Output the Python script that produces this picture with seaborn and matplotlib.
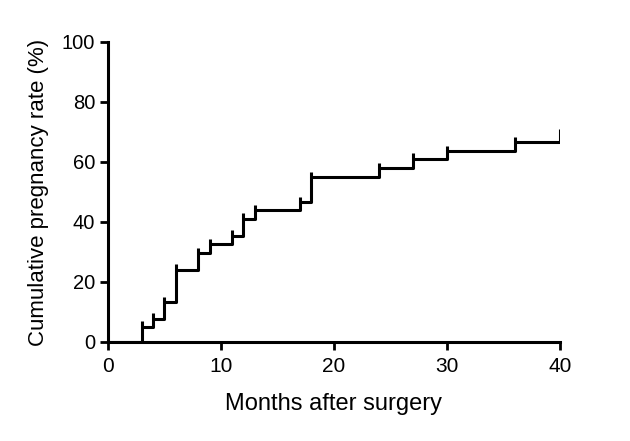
import numpy as np
import pandas as pd
import matplotlib
matplotlib.use("Agg")
import matplotlib.pyplot as plt
import seaborn as sns

# Kaplan-Meier style cumulative pregnancy curve
months = [0, 3, 4, 5, 6, 8, 9, 11, 12, 13, 17, 18, 24, 27, 30, 36, 40]
rate = [0, 5.1, 7.6, 13.2, 24.1, 29.6, 32.7, 35.4, 41.1, 44.0, 46.6, 55.1, 58.1, 60.9, 63.7, 66.6, 66.6]
# censor marks: time and top of the small vertical tick
tick_months = [3, 4, 5, 6, 8, 9, 11, 12, 13, 17, 18, 24, 27, 30, 36, 40]
tick_top = [7.1, 9.7, 14.9, 25.9, 31.4, 34.3, 37.3, 42.9, 45.7, 48.4, 56.8, 59.8, 62.9, 65.4, 68.2, 71.0]

sns.set_style("ticks")
plt.rcParams["font.family"] = ["Liberation Sans", "DejaVu Sans"]
plt.rcParams["text.color"] = "black"
plt.rcParams["axes.labelcolor"] = "black"
plt.rcParams["xtick.color"] = "black"
plt.rcParams["ytick.color"] = "black"

df = pd.DataFrame({"month": months, "rate": rate})

fig = plt.figure(figsize=(6.3, 4.41), dpi=100)
ax = fig.add_axes([0.171, 0.2245, 0.718, 0.6805])

sns.lineplot(data=df, x="month", y="rate", estimator=None, drawstyle="steps-post",
             color="black", linewidth=2.2, ax=ax)
tick_base = [dict(zip(months, rate))[m] for m in tick_months]
ax.vlines(tick_months, tick_base, tick_top, color="black", linewidth=2.2)

ax.set_xlim(0, 40)
ax.set_ylim(0, 100)
ax.set_xticks([0, 10, 20, 30, 40])
ax.set_yticks([0, 20, 40, 60, 80, 100])
ax.set_xlabel("Months after surgery", fontsize=17, labelpad=12)
ax.set_ylabel("Cumulative pregnancy rate (%)", fontsize=16, labelpad=9)
ax.tick_params(axis="x", labelsize=15, width=2, length=6, pad=5)
ax.tick_params(axis="y", labelsize=14.5, width=2, length=6, pad=3)
for side in ["left", "bottom"]:
    ax.spines[side].set_linewidth(2.2)
    ax.spines[side].set_color("black")
sns.despine(ax=ax)

fig.savefig("out.png", dpi=100)
